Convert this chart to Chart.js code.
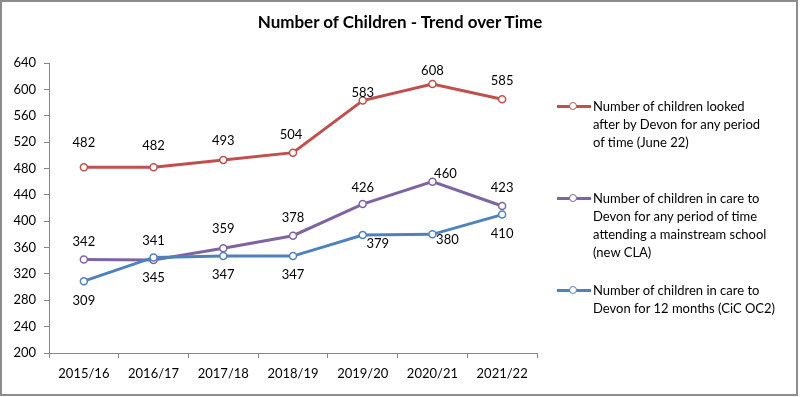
<!DOCTYPE html>
<html>
<head>
<meta charset="utf-8">
<script src="https://cdn.jsdelivr.net/npm/chart.js@4"></script>
<style>
    html, body { margin: 0; padding: 0; background: #fff; }
    #frame {
        position: relative;
        width: 798px;
        height: 396px;
        border: 2px solid #8c8c8c;
        box-sizing: border-box;
        overflow: hidden;
    }
    #chartTrend { position: absolute; left: -2px; top: -2px; }
    #title {
        position: absolute;
        left: -2px;
        width: 800px;
        top: 10px;
        text-align: center;
        font-family: Lato, "Liberation Sans", sans-serif;
        font-size: 17px;
        font-weight: bold;
        line-height: 20px;
        color: #000;
    }
    #legend {
        position: absolute;
        left: 555px;
        top: 95px;
        font-family: Lato, "Liberation Sans", sans-serif;
        font-size: 13px;
        line-height: 18px;
        color: #000;
    }
    #legend .item { display: flex; margin-bottom: 20px; }
    #legend .item:first-child { margin-bottom: 38px; }
    #legend .sample { position: relative; width: 36px; height: 18px; flex: none; }
    #legend .sample .line { position: absolute; left: 0; width: 34px; top: 8px; height: 3px; }
    #legend .sample .dot {
        position: absolute; left: 12px; top: 5px; width: 6px; height: 6px;
        border-radius: 50%; background: #fff; border: 1.5px solid;
    }
    #legend .text { white-space: pre; }
</style>
</head>
<body>
<div id="frame">
    <canvas id="chartTrend" width="800" height="397"></canvas>
    <div id="title">Number of Children - Trend over Time</div>
    <div id="legend"></div>
</div>
<script>

var years = ['2015/16', '2016/17', '2017/18', '2018/19', '2019/20', '2020/21', '2021/22'];

var lookedAfter = [482, 482, 493, 504, 583, 608, 585];
var mainstream = [342, 341, 359, 378, 426, 460, 423];
var twelveMonths = [309, 345, 347, 347, 379, 380, 410];

// line breaks as they wrap in the original legend
var seriesNames = [
    'Number of children looked\nafter by Devon for any period\nof time (June 22)',
    'Number of children in care to\nDevon for any period of time\nattending a mainstream school\n(new CLA)',
    'Number of children in care to\nDevon for 12 months (CiC OC2)'
];

var yTicks = [200, 240, 280, 320, 360, 400, 440, 480, 520, 560, 600, 640];

var fontFamily = 'Lato, "Liberation Sans", sans-serif';

// draws the value next to each point (Excel style data labels)
var valueLabels = {
    id: 'valueLabels',
    afterDatasetsDraw: function(chart) {
        var ctx = chart.ctx;
        ctx.save();
        ctx.font = '13px ' + fontFamily;
        ctx.fillStyle = '#000';
        ctx.textAlign = 'center';
        ctx.textBaseline = 'middle';
        chart.data.datasets.forEach(function(ds, i) {
            var meta = chart.getDatasetMeta(i);
            meta.data.forEach(function(pt, j) {
                var shift = ds.labelShift[j];
                ctx.fillText(ds.data[j], pt.x + shift[0], pt.y + shift[1]);
            });
        });
        ctx.restore();
    }
};

function makeDataset(label, data, color, order, labelShift) {
    return {
        label: label,
        data: data,
        borderColor: color,
        backgroundColor: color,
        borderWidth: 3,
        tension: 0,
        pointRadius: 3.5,
        pointBorderWidth: 1.5,
        pointBackgroundColor: '#ffffff',
        pointBorderColor: color,
        order: order,
        labelShift: labelShift
    };
}

var datasets = [
    makeDataset(seriesNames[0], lookedAfter, '#C0504D', 2,
        [[0, -24], [0, -21], [0, -19], [-2, -18], [0, -8], [0, -13], [0, -18]]),
    makeDataset(seriesNames[1], mainstream, '#8064A2', 1,
        [[0, -18], [0, -19], [0, -19], [0, -18], [0, -16], [13, -8], [0, -18]]),
    makeDataset(seriesNames[2], twelveMonths, '#4F81BD', 0,
        [[0, 20], [0, 20], [0, 19], [0, 19], [15, 9], [15, 5], [0, 19]])
];

var config = {
    type: 'line',
    data: {
        labels: years,
        datasets: datasets
    },
    plugins: [valueLabels],
    options: {
        responsive: false,
        animation: false,
        layout: {
            padding: { left: 0, right: 263, top: 63, bottom: 0 }
        },
        plugins: {
            legend: { display: false },
            tooltip: { enabled: false },
            title: { display: false }
        },
        scales: {
            x: {
                offset: true,
                border: { color: '#868686', width: 1 },
                grid: {
                    offset: true,
                    drawOnChartArea: false,
                    drawTicks: true,
                    tickLength: 5,
                    color: '#868686'
                },
                ticks: {
                    color: '#000',
                    padding: 8,
                    maxRotation: 0,
                    font: { family: fontFamily, size: 13 }
                },
                afterFit: function(scale) {
                    scale.height = 44;
                }
            },
            y: {
                min: 200,
                max: 640,
                border: { color: '#868686', width: 1 },
                grid: {
                    drawOnChartArea: false,
                    drawTicks: true,
                    tickLength: 5,
                    color: '#868686'
                },
                afterBuildTicks: function(scale) {
                    scale.ticks = yTicks.map(function(v) { return { value: v }; });
                },
                ticks: {
                    color: '#000',
                    padding: 8,
                    font: { family: fontFamily, size: 13 }
                },
                afterFit: function(scale) {
                    scale.width = 49;
                }
            }
        }
    }
};

new Chart(document.getElementById('chartTrend'), config);

// html legend, so the long series names can wrap like the original
var legend = document.getElementById('legend');
datasets.forEach(function(ds) {
    var item = document.createElement('div');
    item.className = 'item';
    item.innerHTML = '<div class="sample"><div class="line" style="background:' + ds.borderColor + '"></div>' +
        '<div class="dot" style="border-color:' + ds.borderColor + '"></div></div>' +
        '<div class="text"></div>';
    item.querySelector('.text').textContent = ds.label;
    legend.appendChild(item);
});

</script>
</body>
</html>
